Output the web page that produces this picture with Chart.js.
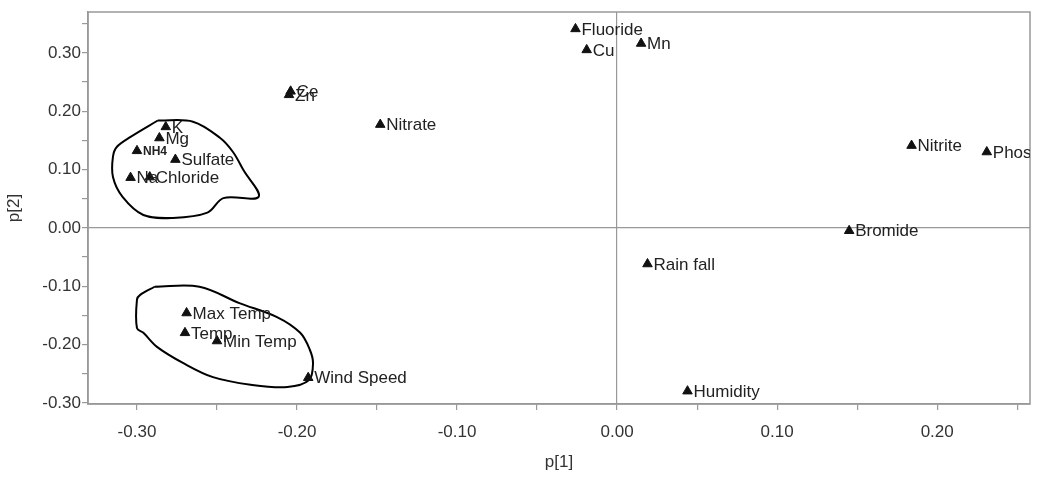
<!DOCTYPE html>
<html>
<head>
<meta charset="utf-8">
<script src="https://cdn.jsdelivr.net/npm/chart.js@4"></script>
<style>
  html, body { margin: 0; padding: 0; background: #fff; }
  #wrap { width: 1054px; height: 477px; }
</style>
</head>
<body>
<div id="wrap"><canvas id="chart"></canvas></div>
<script>
// loadings (p[1], p[2])
const names = ["Fluoride", "Cu", "Mn", "Ce", "Zn", "Nitrate", "K", "Mg", "NH4", "Sulfate",
  "Na", "Chloride", "Nitrite", "Phosph", "Bromide", "Rain fall", "Humidity",
  "Max Temp", "Temp", "Min Temp", "Wind Speed"];
const p1 = [-0.026, -0.019, 0.015, -0.204, -0.205, -0.148, -0.282, -0.286, -0.300, -0.276,
  -0.304, -0.292, 0.184, 0.231, 0.145, 0.019, 0.044,
  -0.269, -0.270, -0.250, -0.193];
const p2 = [0.341, 0.305, 0.316, 0.234, 0.228, 0.177, 0.173, 0.154, 0.132, 0.117,
  0.086, 0.087, 0.141, 0.130, -0.005, -0.062, -0.280,
  -0.146, -0.180, -0.194, -0.257];

// hand drawn outlines around the two clusters
const ionsLoopX = [-0.287, -0.265, -0.248, -0.240, -0.2335, -0.224, -0.246, -0.256, -0.2775, -0.296, -0.309, -0.315, -0.315, -0.3125, -0.304, -0.287];
const ionsLoopY = [0.184, 0.182, 0.154, 0.130, 0.099, 0.053, 0.051, 0.026, 0.017, 0.022, 0.053, 0.087, 0.122, 0.139, 0.156, 0.184];
const tempLoopX = [-0.289, -0.261, -0.236, -0.2125, -0.198, -0.192, -0.190, -0.1925, -0.206, -0.229, -0.2525, -0.271, -0.2875, -0.296, -0.300, -0.300, -0.298, -0.289];
const tempLoopY = [-0.101, -0.101, -0.129, -0.153, -0.180, -0.209, -0.232, -0.261, -0.273, -0.269, -0.256, -0.232, -0.204, -0.180, -0.172, -0.123, -0.115, -0.101];

// axes
const xTicks = [-0.30, -0.25, -0.20, -0.15, -0.10, -0.05, 0.00, 0.05, 0.10, 0.15, 0.20, 0.25];
const yTicks = [-0.30, -0.25, -0.20, -0.15, -0.10, -0.05, 0.00, 0.05, 0.10, 0.15, 0.20, 0.25, 0.30, 0.35];
const xTickLabels = ["-0.30", "-0.20", "-0.10", "0.00", "0.10", "0.20"];
const yTickLabels = ["-0.30", "-0.20", "-0.10", "0.00", "0.10", "0.20", "0.30"];

const axisGrey = "#999";
const textColor = "#333";

const toPoints = (xs, ys) => xs.map((x, i) => ({ x: x, y: ys[i] }));

// names written next to each triangle, cut off at the plot frame
const pointLabels = {
  id: "pointLabels",
  afterDatasetsDraw(chart) {
    const ctx = chart.ctx;
    const a = chart.chartArea;
    const meta = chart.getDatasetMeta(0);
    ctx.save();
    ctx.beginPath();
    ctx.rect(a.left, a.top, a.right - a.left, a.bottom - a.top);
    ctx.clip();
    ctx.fillStyle = "#222";
    ctx.textBaseline = "middle";
    ctx.textAlign = "left";
    meta.data.forEach((el, i) => {
      if (names[i] === "NH4") ctx.font = "bold 12px 'Liberation Sans', Arial, sans-serif";
      else ctx.font = "17px 'Liberation Sans', Arial, sans-serif";
      ctx.fillText(names[i], el.x + 6, el.y + 1);
    });
    ctx.restore();
  }
};

// box around the plot area
const frame = {
  id: "frame",
  beforeDatasetsDraw(chart) {
    const a = chart.chartArea;
    const ctx = chart.ctx;
    ctx.save();
    ctx.strokeStyle = axisGrey;
    ctx.lineWidth = 1.5;
    ctx.strokeRect(a.left, a.top, a.right - a.left, a.bottom - a.top);
    ctx.restore();
  }
};

const loopStyle = {
  type: "line",
  showLine: true,
  tension: 0.35,
  borderColor: "#000",
  borderWidth: 2,
  pointRadius: 0,
  fill: false
};

new Chart(document.getElementById("chart"), {
  type: "scatter",
  data: {
    datasets: [
      {
        data: toPoints(p1, p2),
        pointStyle: "triangle",
        pointRadius: 5.5,
        backgroundColor: "#111",
        borderColor: "#111",
        borderWidth: 1
      },
      Object.assign({ data: toPoints(ionsLoopX, ionsLoopY) }, loopStyle),
      Object.assign({ data: toPoints(tempLoopX, tempLoopY) }, loopStyle)
    ]
  },
  options: {
    responsive: true,
    maintainAspectRatio: false,
    animation: false,
    layout: { padding: { left: 0, top: 12, right: 24, bottom: 0 } },
    plugins: { legend: { display: false }, tooltip: { enabled: false } },
    scales: {
      x: {
        type: "linear",
        min: -0.3306,
        max: 0.258,
        afterBuildTicks: (s) => { s.ticks = xTicks.map(v => ({ value: v })); },
        afterFit: (s) => { s.height = 73; },
        border: { display: true, color: axisGrey, width: 1.5 },
        grid: {
          drawOnChartArea: true,
          color: (c) => (c.tick && Math.abs(c.tick.value) < 1e-9 ? axisGrey : "rgba(0,0,0,0)"),
          tickColor: axisGrey,
          tickLength: 6,
          lineWidth: 1.2
        },
        ticks: {
          autoSkip: false,
          maxRotation: 0,
          padding: 12,
          color: textColor,
          font: { family: "'Liberation Sans', Arial, sans-serif", size: 17 },
          callback: (v) => { const s = Number(v).toFixed(2); return xTickLabels.includes(s) ? s : ""; }
        },
        title: {
          display: true,
          text: "p[1]",
          color: textColor,
          font: { family: "'Liberation Sans', Arial, sans-serif", size: 17 }
        }
      },
      y: {
        type: "linear",
        min: -0.302,
        max: 0.370,
        afterBuildTicks: (s) => { s.ticks = yTicks.map(v => ({ value: v })); },
        afterFit: (s) => { s.width = 88; },
        border: { display: true, color: axisGrey, width: 1.5 },
        grid: {
          drawOnChartArea: true,
          color: (c) => (c.tick && Math.abs(c.tick.value) < 1e-9 ? axisGrey : "rgba(0,0,0,0)"),
          tickColor: axisGrey,
          tickLength: 6,
          lineWidth: 1.2
        },
        ticks: {
          autoSkip: false,
          padding: 1,
          color: textColor,
          font: { family: "'Liberation Sans', Arial, sans-serif", size: 17 },
          callback: (v) => { const s = Number(v).toFixed(2); return yTickLabels.includes(s) ? s : ""; }
        },
        title: {
          display: true,
          text: "p[2]",
          color: textColor,
          font: { family: "'Liberation Sans', Arial, sans-serif", size: 17 }
        }
      }
    }
  },
  plugins: [frame, pointLabels]
});
</script>
</body>
</html>
